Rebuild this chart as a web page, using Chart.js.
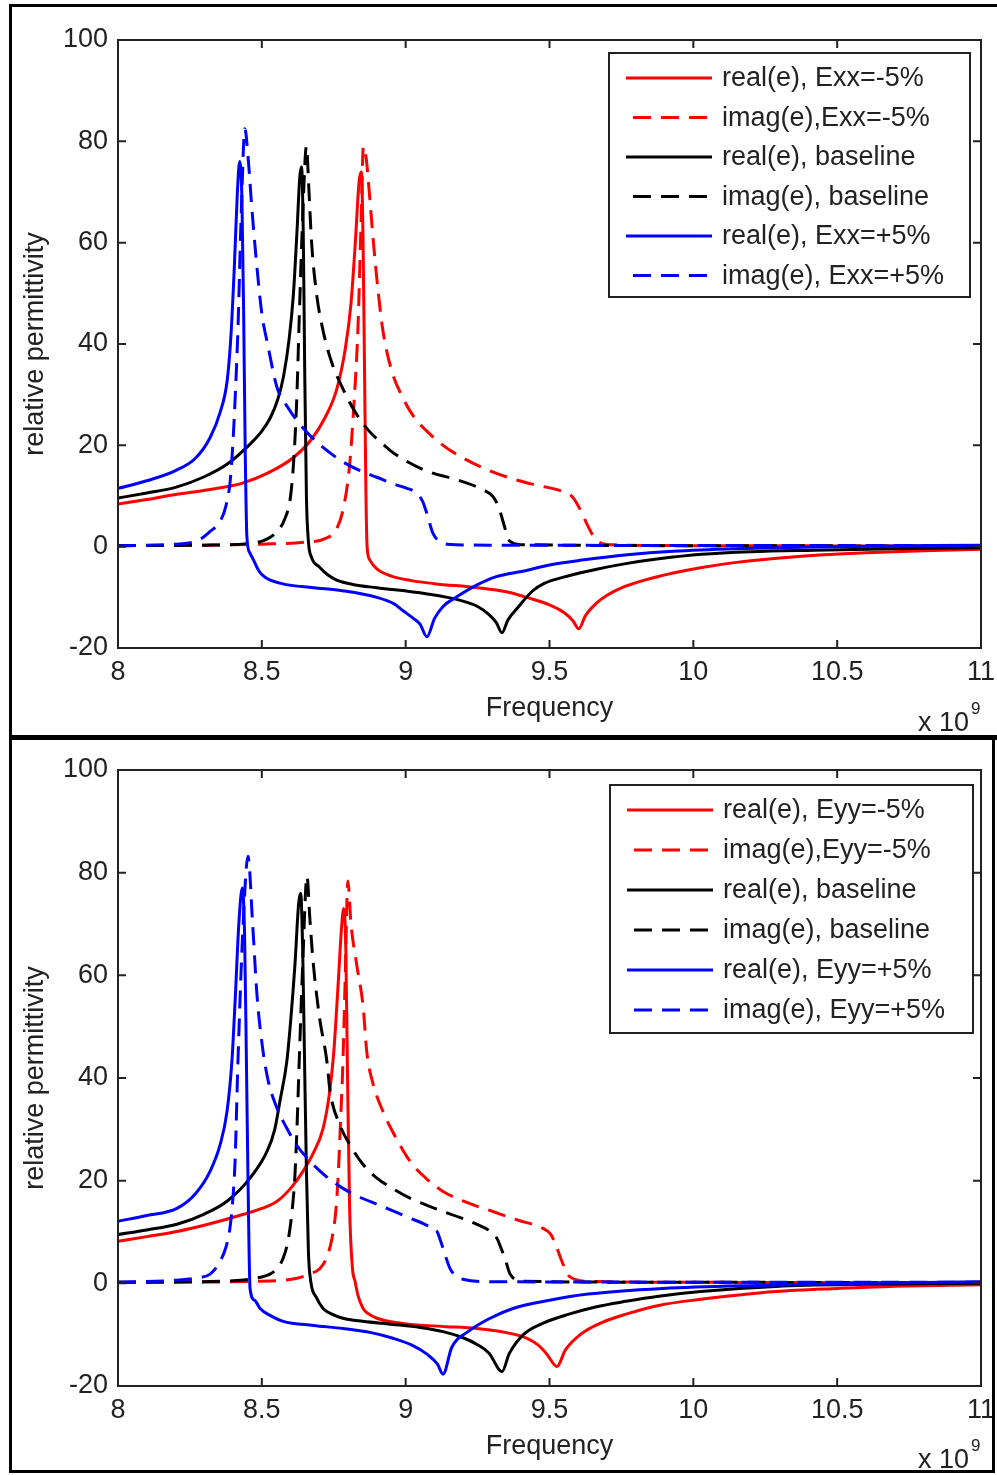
<!DOCTYPE html>
<html>
<head>
<meta charset="utf-8">
<script src="https://cdn.jsdelivr.net/npm/chart.js@4.4.0/dist/chart.umd.min.js"></script>
<style>
  html, body { margin: 0; padding: 0; background: #fff; }
  body { width: 997px; height: 1475px; position: relative; overflow: hidden; }
  canvas { position: absolute; left: 0; }
  #chartTop { top: 0; }
  #chartBottom { top: 740px; }
  .rule { position: absolute; background: #000; }
</style>
</head>
<body>
<canvas id="chartTop" width="997" height="737"></canvas>
<canvas id="chartBottom" width="997" height="735"></canvas>
<div class="rule" style="left:9px;top:4px;width:988px;height:3px"></div>
<div class="rule" style="left:9px;top:4px;width:3px;height:1469px"></div>
<div class="rule" style="left:9px;top:735px;width:988px;height:5px"></div>
<div class="rule" style="left:9px;top:1470px;width:986px;height:3px"></div>
<div class="rule" style="left:992px;top:740px;width:3px;height:733px"></div>

<script>
const FONT = "'Liberation Sans', Arial, sans-serif";

// axis ticks
const xTicks = [8, 8.5, 9, 9.5, 10, 10.5, 11];
const yTicks = [-20, 0, 20, 40, 60, 80, 100];

const labelsTop = ['real(e), Exx=-5%', 'imag(e),Exx=-5%', 'real(e), baseline',
                   'imag(e), baseline', 'real(e), Exx=+5%', 'imag(e), Exx=+5%'];
const labelsBottom = ['real(e), Eyy=-5%', 'imag(e),Eyy=-5%', 'real(e), baseline',
                      'imag(e), baseline', 'real(e), Eyy=+5%', 'imag(e), Eyy=+5%'];
const seriesColors = ['#ff0000', '#ff0000', '#000000', '#000000', '#0000ff', '#0000ff'];

// [frequency (GHz), relative permittivity] -- top panel (Exx strain)
const realXxMinus = [[8.00,8.4],[8.10,9.3],[8.20,10.3],[8.32,11.3],[8.43,12.5],[8.52,14.5],[8.61,17.6],[8.67,21],[8.72,25.5],[8.76,31],[8.79,39],[8.81,48],[8.825,60],[8.838,72],[8.846,74],[8.852,60],[8.857,35],[8.862,10],[8.866,0],[8.875,-2.6],[8.90,-4.4],[8.95,-5.8],[9.02,-6.7],[9.10,-7.3],[9.25,-8.1],[9.35,-8.9],[9.42,-10],[9.50,-11.5],[9.55,-13],[9.58,-14.5],[9.602,-16.2],[9.625,-13.6],[9.66,-11.3],[9.70,-9.6],[9.76,-7.9],[9.83,-6.6],[9.93,-5.2],[10.03,-4.1],[10.15,-3.1],[10.29,-2.3],[10.45,-1.6],[10.6,-1.2],[10.8,-0.8],[11.0,-0.5]];
const imagXxMinus = [[8.00,0.2],[8.30,0.3],[8.50,0.5],[8.65,0.9],[8.72,1.6],[8.76,3.5],[8.785,8],[8.805,16],[8.82,28],[8.834,43],[8.845,64],[8.853,79],[8.862,77],[8.872,71],[8.888,60],[8.905,50],[8.921,42.6],[8.95,35],[8.99,29.4],[9.03,25.5],[9.07,23],[9.13,20],[9.19,17.8],[9.27,15.5],[9.36,13.6],[9.45,12.2],[9.54,11],[9.58,9.8],[9.605,7.5],[9.63,4.5],[9.65,2.3],[9.67,1.0],[9.71,0.4],[10.0,0.2],[11.0,0.1]];
const realXxBase = [[8.00,9.6],[8.10,10.6],[8.20,11.7],[8.30,13.8],[8.38,16.3],[8.46,20.3],[8.50,22.8],[8.53,25.5],[8.555,29],[8.575,33.5],[8.595,41],[8.61,50],[8.622,62],[8.632,73],[8.638,75],[8.644,62],[8.649,35],[8.655,10],[8.662,1],[8.672,-2],[8.70,-4],[8.73,-5.6],[8.76,-6.6],[8.82,-7.5],[8.90,-8.1],[9.07,-9.3],[9.19,-10.6],[9.25,-11.8],[9.29,-13.4],[9.315,-15],[9.335,-17],[9.355,-14.5],[9.39,-12],[9.44,-8.8],[9.48,-7.3],[9.57,-5.7],[9.66,-4.5],[9.76,-3.4],[9.88,-2.4],[10.03,-1.5],[10.2,-1.0],[10.42,-0.7],[10.7,-0.4],[11.0,-0.2]];
const imagXxBase = [[8.00,0.2],[8.30,0.3],[8.45,0.6],[8.51,1.3],[8.553,3],[8.58,5.5],[8.60,10],[8.612,18],[8.622,30],[8.63,45],[8.642,65],[8.655,79],[8.664,70],[8.673,60],[8.69,50],[8.713,42.6],[8.745,36],[8.78,31.4],[8.82,27],[8.87,23],[8.92,20.3],[8.96,18.4],[9.07,15],[9.19,13],[9.27,11.2],[9.305,9.8],[9.325,7.5],[9.345,3.7],[9.36,1.2],[9.40,0.4],[10.0,0.2],[11.0,0.1]];
const realXxPlus = [[8.00,11.5],[8.10,13],[8.20,15],[8.27,17.5],[8.32,21.5],[8.355,26.5],[8.38,33],[8.393,42],[8.405,56],[8.415,70],[8.423,76],[8.431,68],[8.437,45],[8.442,20],[8.448,2],[8.458,-1.2],[8.47,-2.5],[8.49,-4.8],[8.51,-6],[8.57,-7.3],[8.68,-8.1],[8.78,-8.7],[8.90,-10],[8.96,-11.3],[8.99,-12.6],[9.03,-14.3],[9.05,-15.3],[9.074,-17.8],[9.10,-14.2],[9.13,-11.8],[9.175,-10],[9.25,-7.5],[9.31,-6],[9.42,-4.7],[9.50,-3.6],[9.62,-2.6],[9.77,-1.6],[9.93,-0.9],[10.15,-0.4],[10.5,0],[11.0,0.3]];
const imagXxPlus = [[8.00,0.2],[8.20,0.5],[8.28,1.3],[8.32,3],[8.355,5],[8.375,8],[8.39,13],[8.40,21],[8.407,29],[8.417,43],[8.428,65],[8.441,82.5],[8.452,77],[8.465,67],[8.48,57],[8.50,46],[8.52,40],[8.553,31.4],[8.59,27.5],[8.622,24.9],[8.67,21.8],[8.726,19],[8.78,16.8],[8.841,15],[8.90,13.7],[8.956,12.4],[9.00,11.6],[9.039,10.5],[9.06,8.8],[9.074,6.5],[9.095,2.6],[9.12,1.0],[9.144,0.5],[9.30,0.3],[11.0,0.2]];

// bottom panel (Eyy strain)
const realYyMinus = [[8.00,8.2],[8.10,9.1],[8.205,10.1],[8.32,11.6],[8.434,13.4],[8.50,14.6],[8.553,16],[8.60,18.5],[8.643,21.8],[8.68,25.5],[8.713,30.2],[8.735,37],[8.75,45],[8.765,58],[8.778,70],[8.785,73],[8.792,65],[8.798,40],[8.805,15],[8.815,3],[8.824,0.4],[8.835,-2.5],[8.852,-4.9],[8.87,-5.9],[8.90,-6.8],[8.95,-7.5],[9.015,-8],[9.13,-8.4],[9.248,-8.8],[9.35,-9.6],[9.422,-10.7],[9.46,-12],[9.491,-13.8],[9.526,-16.2],[9.555,-13],[9.609,-9.9],[9.68,-7.7],[9.766,-6],[9.88,-4.3],[10.026,-3.1],[10.15,-2.3],[10.287,-1.6],[10.5,-1.0],[10.68,-0.6],[11.0,-0.3]];
const imagYyMinus = [[8.00,0.2],[8.50,0.4],[8.622,1],[8.67,1.9],[8.702,2.9],[8.725,5],[8.744,8.8],[8.757,14],[8.765,20.5],[8.774,32],[8.782,43.3],[8.79,60],[8.799,78.4],[8.81,70],[8.83,62],[8.852,54],[8.865,45],[8.886,39],[8.921,33.5],[8.96,29],[9.015,23.8],[9.07,20.5],[9.13,17.9],[9.21,15.8],[9.303,14],[9.39,12.3],[9.477,10.7],[9.505,9.5],[9.525,7],[9.543,4.3],[9.568,1.4],[9.634,0.4],[10.0,0.2],[11.0,0.1]];
const realYyBase = [[8.00,9.5],[8.10,10.4],[8.205,11.5],[8.30,13.5],[8.379,16],[8.459,20.5],[8.518,25.7],[8.545,30],[8.563,35.5],[8.587,43.3],[8.60,51],[8.615,62],[8.628,74],[8.635,76],[8.642,65],[8.648,45],[8.655,22],[8.662,6],[8.67,0.4],[8.69,-2.8],[8.713,-4.9],[8.74,-5.9],[8.782,-6.8],[8.85,-7.4],[8.956,-8],[9.05,-8.6],[9.13,-9.4],[9.20,-10.6],[9.248,-11.9],[9.29,-13.6],[9.335,-17.2],[9.36,-13.7],[9.411,-9.9],[9.48,-7.7],[9.568,-6],[9.66,-4.6],[9.766,-3.5],[9.88,-2.5],[10.026,-1.6],[10.287,-0.6],[10.6,-0.2],[11.0,0]];
const imagYyBase = [[8.00,0.2],[8.40,0.5],[8.48,1],[8.528,1.8],[8.555,3],[8.574,4.9],[8.59,8],[8.605,14],[8.615,21],[8.622,30],[8.63,43.3],[8.642,62],[8.657,79.3],[8.667,71],[8.678,62.8],[8.70,52],[8.726,43.3],[8.737,37.5],[8.77,31],[8.806,27],[8.85,23.3],[8.90,20.5],[8.96,18.3],[9.015,16.6],[9.07,15.3],[9.13,14],[9.19,12.8],[9.248,11.5],[9.29,10.3],[9.317,8.8],[9.332,6.8],[9.345,4.9],[9.363,1.8],[9.408,0.4],[10.0,0.2],[11.0,0.1]];
const realYyPlus = [[8.00,12.1],[8.10,13.2],[8.205,14.6],[8.27,17.5],[8.32,21.8],[8.355,27],[8.379,33.5],[8.396,43.3],[8.408,56],[8.42,70],[8.432,77],[8.44,68],[8.446,45],[8.452,20],[8.459,-1],[8.475,-3.3],[8.494,-4.9],[8.53,-6.3],[8.574,-7.4],[8.68,-8.2],[8.782,-8.8],[8.88,-9.6],[8.956,-10.7],[9.02,-12],[9.074,-13.8],[9.11,-15.7],[9.13,-17.7],[9.16,-12.5],[9.217,-9.4],[9.29,-6.9],[9.373,-4.9],[9.50,-3.3],[9.634,-2.1],[9.894,-1],[10.221,-0.4],[10.6,0],[11.0,0.3]];
const imagYyPlus = [[8.00,0.2],[8.20,0.6],[8.28,1.1],[8.32,1.8],[8.355,4.3],[8.375,7],[8.389,10.7],[8.40,17],[8.407,23.8],[8.417,43.3],[8.435,70],[8.452,83.2],[8.468,70],[8.483,56.3],[8.50,47],[8.52,40],[8.55,34.5],[8.587,30.2],[8.62,27],[8.667,23.8],[8.72,21],[8.782,18.5],[8.84,16.8],[8.90,15.4],[8.96,14],[9.015,12.7],[9.07,11.4],[9.109,10.1],[9.12,8.5],[9.13,6.8],[9.154,2.9],[9.175,1.4],[9.199,0.8],[9.30,0.3],[11.0,0.2]];

function toXY(pairs) {
  return pairs.map(p => ({ x: p[0], y: p[1] }));
}

function buildDatasets(labels, series) {
  return series.map((s, i) => ({
    label: labels[i],
    data: toXY(s),
    borderColor: seriesColors[i],
    backgroundColor: seriesColors[i],
    borderDash: i % 2 === 1 ? [18, 10] : [],
    order: series.length - 1 - i   // blue ends up on top
  }));
}

// MATLAB style box, inward ticks, boxed legend and the x10^9 multiplier
const matlabLook = {
  id: 'matlabLook',
  afterDatasetsDraw(chart) {
    const { ctx, chartArea: a, scales: { x, y } } = chart;
    ctx.save();
    ctx.strokeStyle = '#222';
    ctx.lineWidth = 2;
    ctx.setLineDash([]);
    ctx.strokeRect(a.left, a.top, a.right - a.left, a.bottom - a.top);
    ctx.beginPath();
    xTicks.forEach(v => {
      const px = x.getPixelForValue(v);
      ctx.moveTo(px, a.bottom); ctx.lineTo(px, a.bottom - 8);
      ctx.moveTo(px, a.top); ctx.lineTo(px, a.top + 8);
    });
    yTicks.forEach(v => {
      const py = y.getPixelForValue(v);
      ctx.moveTo(a.left, py); ctx.lineTo(a.left + 8, py);
      ctx.moveTo(a.right, py); ctx.lineTo(a.right - 8, py);
    });
    ctx.stroke();
    ctx.restore();
  },
  afterDraw(chart, args, opts) {
    const ctx = chart.ctx;
    const b = opts.box;
    ctx.save();
    // legend
    ctx.fillStyle = '#fff';
    ctx.fillRect(b.left, b.top, b.width, b.height);
    ctx.strokeStyle = '#222';
    ctx.lineWidth = 2;
    ctx.strokeRect(b.left, b.top, b.width, b.height);
    ctx.font = '27px ' + FONT;
    ctx.textBaseline = 'middle';
    ctx.textAlign = 'left';
    chart.data.datasets.forEach((ds, i) => {
      const yy = b.top + opts.rowTop + i * opts.rowGap;
      const dashed = ds.borderDash.length > 0;
      ctx.beginPath();
      ctx.strokeStyle = ds.borderColor;
      ctx.lineWidth = 3;
      ctx.setLineDash(ds.borderDash);
      ctx.moveTo(dashed ? b.left + 24 : b.left + 17, yy);
      ctx.lineTo(b.left + 103, yy);
      ctx.stroke();
      ctx.fillStyle = '#222';
      ctx.fillText(ds.label, b.left + 113, yy + 1);
    });
    // x 10^9
    ctx.textBaseline = 'alphabetic';
    ctx.fillStyle = '#222';
    ctx.font = '27px ' + FONT;
    ctx.fillText('x 10', 918, opts.expBase);
    ctx.font = '17px ' + FONT;
    ctx.fillText('9', 971, opts.expBase - 17);
    ctx.restore();
  }
};

function makeChart(id, labels, series, look) {
  return new Chart(document.getElementById(id), {
    type: 'line',
    data: { datasets: buildDatasets(labels, series) },
    options: {
      responsive: false,
      animation: false,
      layout: { padding: { left: 0, right: 16, top: look.padTop, bottom: 7 } },
      elements: {
        point: { radius: 0 },
        line: { borderWidth: 3, cubicInterpolationMode: 'monotone', fill: false }
      },
      plugins: {
        legend: { display: false },
        tooltip: { enabled: false },
        matlabLook: look
      },
      scales: {
        x: {
          type: 'linear', min: 8, max: 11,
          afterBuildTicks: s => { s.ticks = xTicks.map(v => ({ value: v })); },
          afterFit: s => { s.height = 82; s.paddingLeft = 0; s.paddingRight = 0; },
          grid: { display: false, drawTicks: false },
          border: { display: false },
          ticks: {
            padding: 8, color: '#222', maxRotation: 0, autoSkip: false,
            font: { family: FONT, size: 27 },
            callback: v => String(v)
          },
          title: {
            display: true, text: 'Frequency', color: '#222',
            font: { family: FONT, size: 27 }, padding: { top: 0, bottom: 5 }
          }
        },
        y: {
          type: 'linear', min: -20, max: 100,
          afterBuildTicks: s => { s.ticks = yTicks.map(v => ({ value: v })); },
          afterFit: s => { s.width = 118; s.paddingTop = 0; s.paddingBottom = 0; },
          grid: { display: false, drawTicks: false },
          border: { display: false },
          ticks: {
            padding: 10, color: '#222', autoSkip: false,
            font: { family: FONT, size: 27 },
            callback: v => String(v)
          },
          title: {
            display: true, text: 'relative permittivity', color: '#222',
            font: { family: FONT, size: 27 }, padding: { top: 19, bottom: 0 }
          }
        }
      }
    },
    plugins: [matlabLook]
  });
}

makeChart('chartTop', labelsTop,
  [realXxMinus, imagXxMinus, realXxBase, imagXxBase, realXxPlus, imagXxPlus],
  { padTop: 40, box: { left: 609, top: 53, width: 361, height: 244 }, rowTop: 25, rowGap: 39.5, expBase: 731 });

makeChart('chartBottom', labelsBottom,
  [realYyMinus, imagYyMinus, realYyBase, imagYyBase, realYyPlus, imagYyPlus],
  { padTop: 30, box: { left: 610, top: 45, width: 363, height: 248 }, rowTop: 25, rowGap: 40, expBase: 728 });
</script>
</body>
</html>
